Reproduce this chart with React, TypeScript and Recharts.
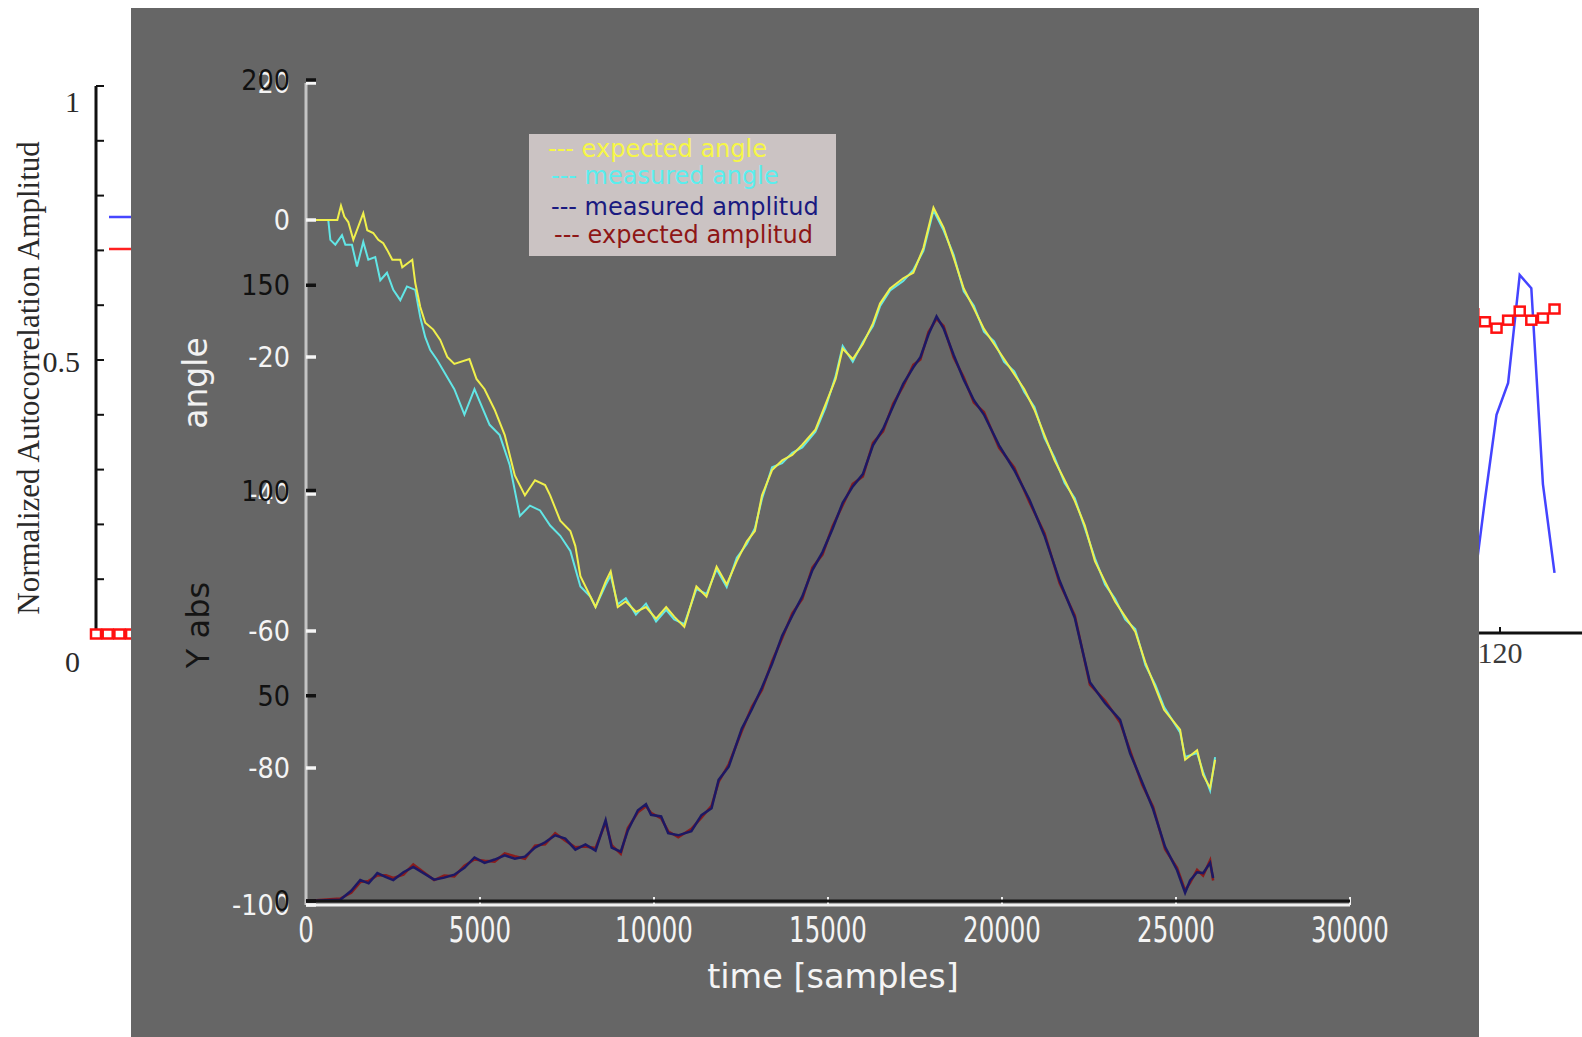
import React from "react";
import { LineChart, Line, XAxis, YAxis, Legend } from "recharts";

const W = 1582;
const H = 1037;
const FONT = "DejaVu Sans";
const SERIF = "Liberation Serif";

// main figure axes
const timeTicks = [0, 5000, 10000, 15000, 20000, 25000, 30000];
const angleTicks = [-100, -80, -60, -40, -20, 0, 20];
const absTicks = [0, 50, 100, 150, 200];

// expected angle (yellow)
const expAngleTime = [
  0, 900, 1005, 1100, 1215, 1360, 1646, 1760, 1933, 2077,
  2220, 2336, 2480, 2709, 2767, 3054, 3140, 3284, 3427, 3657,
  3858, 4060, 4262, 4696, 4899, 5131, 5421, 5711, 6001, 6291,
  6581, 6871, 7016, 7306, 7596, 7740, 7885, 8175, 8320, 8610,
  8755, 8958, 9190, 9480, 9770, 10060, 10350, 10581, 10871, 11219,
  11509, 11799, 12089, 12379, 12668, 12900, 13103, 13393, 13683, 13973,
  14262, 14639, 14929, 15219, 15422, 15712, 16002, 16292, 16495, 16785,
  17162, 17452, 17741, 18031, 18321, 18611, 18901, 19191, 19481, 19771,
  20061, 20351, 20641, 20931, 21221, 21511, 21801, 22091, 22381, 22671,
  22961, 23250, 23540, 23830, 24120, 24410, 24658, 25118, 25262, 25607,
  25779, 25980, 26124,
];
const expAngle = [
  0, 0, 2.1, 0.5, -0.3, -2.9, 1.0, -1.5, -1.9, -2.9,
  -3.4, -4.4, -5.8, -5.8, -6.9, -5.8, -9.2, -12.7, -15.0, -16.0,
  -17.5, -20.0, -21.0, -20.3, -23.2, -24.7, -27.7, -31.4, -37.3, -40.2,
  -38.0, -38.7, -40.2, -43.9, -45.4, -47.6, -52.0, -55.0, -56.5, -52.8,
  -51.3, -56.5, -55.7, -57.2, -56.5, -58.2, -56.5, -57.9, -59.4, -53.5,
  -55.0, -50.6, -53.2, -49.8, -46.9, -45.4, -40.2, -36.5, -35.1, -34.3,
  -32.8, -30.6, -26.9, -23.2, -18.8, -20.3, -18.1, -15.1, -12.2, -10.0,
  -8.5, -7.7, -4.1, 1.8, -1.1, -5.5, -10.0, -12.9, -15.9, -18.1,
  -20.3, -22.5, -24.7, -27.7, -31.4, -35.1, -38.0, -41.0, -44.6, -49.8,
  -52.8, -55.7, -57.9, -60.1, -64.6, -68.3, -71.5, -74.4, -78.8, -77.4,
  -81.0, -82.9, -78.8,
];

// measured angle (cyan)
const measAngleTime = [
  0, 640, 700, 842, 1034, 1130, 1320, 1465, 1646, 1790,
  1990, 2135, 2327, 2508, 2709, 2900, 3140, 3284, 3427, 3571,
  3764, 4262, 4552, 4841, 5276, 5566, 5856, 6146, 6436, 6726,
  7016, 7306, 7596, 7885, 8175, 8320,
  8610, 8755, 8958, 9190, 9480, 9770, 10060, 10350, 10581, 10871,
  11219, 11509, 11799, 12089, 12379, 12668, 12900, 13103, 13393, 13683,
  13973, 14262, 14639, 14929, 15219, 15422, 15712, 16002, 16292, 16495,
  16785, 17162, 17452, 17741, 18031, 18321, 18611, 18901, 19191, 19481,
  19771, 20061, 20351, 20641, 20931, 21221, 21511, 21801, 22091, 22381,
  22671, 22961, 23250, 23540, 23830, 24120, 24410, 24658, 25118, 25262,
  25607, 25779, 25980, 26124,
];
const measAngle = [
  0, 0, -2.9, -3.6, -2.2, -3.6, -3.6, -6.8, -3.2, -5.8,
  -5.4, -8.8, -7.7, -10.2, -11.7, -9.7, -10.2, -14.2, -17.1, -19.0,
  -20.4, -24.7, -28.4, -24.7, -29.9, -31.4, -35.8, -43.2, -41.7, -42.4,
  -44.6, -46.1, -48.3, -53.5, -55.0, -56.5,
  -53.3, -51.9, -56.1, -55.2, -57.6, -56.0, -58.6, -56.9, -58.3, -59.0,
  -53.9, -54.6, -51.0, -53.6, -49.3, -47.3, -45.0, -40.7, -36.1, -35.5,
  -34.0, -33.2, -30.9, -27.4, -22.8, -18.4, -20.7, -17.8, -15.5, -12.6,
  -10.3, -8.9, -7.3, -4.5, 1.4, -1.5, -5.1, -10.4, -12.5, -16.3,
  -17.7, -20.7, -22.1, -25.1, -27.3, -31.8, -34.7, -38.4, -40.6, -45.0,
  -49.4, -53.2, -55.3, -58.3, -59.7, -65.0, -67.9, -71.1, -74.8, -78.4,
  -77.8, -80.6, -83.3, -78.4,
];

// amplitude traces (Y abs axis)
const ampTime = [
  0, 985, 1300, 1560, 1800, 2050, 2300, 2508, 2800, 3083,
  3682, 3972, 4262, 4552, 4841, 5131, 5421, 5711, 6001, 6291,
  6581, 6871, 7161, 7451, 7740, 8030, 8320, 8610, 8784, 9045,
  9248, 9538, 9770, 9915, 10205, 10408, 10697, 11074, 11364, 11654,
  11857, 12147, 12524, 12813, 13103, 13393, 13683, 13973, 14262, 14552,
  14842, 15132, 15422, 15712, 16002, 16292, 16582, 16872, 17162, 17452,
  17655, 17887, 18119, 18321, 18611, 18901, 19191, 19481, 19916, 20351,
  20786, 21221, 21656, 22091, 22526, 22964, 23394, 23681, 24025, 24341,
  24686, 25031, 25262, 25405, 25606, 25779, 25980, 26067,
];
const measAmp = [
  0, 0.3, 2.5, 5.1, 4.3, 6.8, 5.8, 5.1, 7.0, 8.3,
  5.2, 5.7, 6.4, 8.1, 10.6, 9.3, 10.1, 11.1, 10.3, 10.8,
  13.0, 14.3, 16.0, 15.2, 12.5, 13.8, 12.3, 19.7, 13.0, 12.0,
  17.2, 22.1, 23.6, 21.0, 20.6, 16.5, 16.0, 17.0, 20.9, 22.6,
  29.5, 32.7, 42.0, 46.7, 52.0, 57.8, 64.6, 69.5, 74.2, 80.6,
  85.0, 90.7, 97.0, 101.0, 104.0, 111.0, 115.0, 120.5, 126.0, 130.0,
  132.5, 138.0, 142.4, 139.5, 133.0, 127.0, 122.0, 118.5, 111.0, 105.0,
  97.8, 89.0, 78.0, 69.0, 53.3, 48.2, 44.1, 36.0, 29.0, 22.4,
  13.2, 7.5, 2.0, 5.0, 7.0, 6.8, 9.3, 5.6,
];
const expAmp = [
  0, 0.6, 2.0, 4.6, 4.9, 6.2, 6.3, 5.6, 6.4, 8.9,
  5.1, 6.2, 6.0, 8.6, 10.1, 9.8, 9.6, 11.6, 10.9, 10.3,
  13.5, 13.8, 16.5, 14.7, 13.1, 13.3, 12.9, 19.1, 13.6, 11.5,
  17.8, 21.6, 23.1, 21.5, 20.1, 17.0, 15.5, 17.6, 20.3, 23.2,
  29.0, 33.3, 41.4, 47.3, 51.4, 58.4, 64.0, 70.1, 73.6, 81.2,
  84.4, 91.3, 96.4, 101.6, 103.4, 111.6, 114.4, 121.1, 125.4, 130.6,
  131.9, 138.6, 141.8, 140.1, 132.4, 127.6, 121.4, 119.1, 110.4, 105.6,
  97.2, 89.6, 77.4, 69.6, 52.7, 48.8, 43.5, 36.6, 28.4, 23.0,
  12.6, 8.1, 2.6, 4.4, 7.6, 6.2, 9.9, 5.0,
];

const seriesNames = ["expected angle", "measured angle", "measured amplitud", "expected amplitud"];
const seriesColors = ["#f0f04c", "#62e6e6", "#1c1864", "#8a1c1c"];
const legendTextColors = ["#f6f648", "#5aeeee", "#1a1a80", "#8e1616"];

// background autocorrelation figure
const bgYTicks = [0, 0.1, 0.2, 0.3, 0.4, 0.5, 0.6, 0.7, 0.8, 0.9, 1];
const bgLeftLag = [0, 1, 2, 3, 4];
const bgLeftBlue = [0, 0, 0, 0, 0];
const bgLeftRed = [0, 0, 0, 0, 0];
const bgRightLag = [117.7, 118.7, 119.7, 120.7, 121.7, 122.7, 123.7, 124.7];
const bgRightBlue = [0.08, 0.25, 0.41, 0.47, 0.673, 0.648, 0.28, 0.113];
const bgRightRed = [0.6, 0.585, 0.573, 0.588, 0.605, 0.588, 0.592, 0.609];

const zip = (xs: number[], ys: number[]) => xs.map((t, i) => ({ t, v: ys[i] }));

const expAngleData = zip(expAngleTime, expAngle);
const measAngleData = zip(measAngleTime, measAngle);
const measAmpData = zip(ampTime, measAmp);
const expAmpData = zip(ampTime, expAmp);
const bgLeftBlueData = zip(bgLeftLag, bgLeftBlue);
const bgLeftRedData = zip(bgLeftLag, bgLeftRed);
const bgRightBlueData = zip(bgRightLag, bgRightBlue);
const bgRightRedData = zip(bgRightLag, bgRightRed);

function NarrowTick(props: any) {
  const { x, y, payload, color, size, sx, anchor } = props;
  return (
    <text
      transform={`translate(${x},${y}) scale(${sx},1)`}
      textAnchor={anchor}
      dominantBaseline="central"
      fill={color}
      fontSize={size}
      fontFamily={FONT}
    >
      {payload.value}
    </text>
  );
}

function SerifTick(props: any) {
  const { x, y, payload } = props;
  const v = payload.value;
  if (v !== 0 && v !== 0.5 && v !== 1) return <g />;
  const dy = v === 1 ? 15 : v === 0 ? 27 : 1;
  return (
    <text x={x} y={y + dy} textAnchor="end" dominantBaseline="central" fill="#2a2a2a" fontSize={30} fontFamily={SERIF}>
      {String(v)}
    </text>
  );
}

const square = (p: any) => (
  <rect key={`sq${p.index}`} x={p.cx - 5} y={p.cy - 4.5} width={10} height={9} fill="#fff" stroke="#ff1010" strokeWidth={2.5} />
);

function LegendBox() {
  const tops = [1, 27.5, 59, 87];
  const lefts = [19, 22, 22, 25];
  return (
    <div style={{ position: "relative", width: 307, height: 122, background: "#cbc3c3" }}>
      {seriesNames.map((n, i) => (
        <div
          key={n}
          style={{
            position: "absolute",
            left: lefts[i],
            top: tops[i],
            height: 28,
            lineHeight: "28px",
            whiteSpace: "nowrap",
            fontFamily: FONT,
            fontSize: 24,
            color: legendTextColors[i],
          }}
        >
          {"--- " + n}
        </div>
      ))}
    </div>
  );
}

function BackgroundLeft() {
  return (
    <div style={{ position: "absolute", left: 0, top: 0 }}>
      <LineChart width={681} height={700} margin={{ top: 86, right: 0, bottom: 26, left: 36 }}>
        <XAxis xAxisId="b" type="number" dataKey="t" domain={[0, 50]} height={40} tick={false} tickLine={false} axisLine={{ stroke: "#111", strokeWidth: 2 }} />
        <XAxis xAxisId="t" orientation="top" type="number" dataKey="t" domain={[0, 50]} height={0} tick={false} tickLine={false} axisLine={{ stroke: "#111", strokeWidth: 2.5 }} />
        <YAxis
          type="number"
          domain={[0, 1]}
          ticks={bgYTicks}
          interval={0}
          width={60}
          axisLine={{ stroke: "#111", strokeWidth: 3 }}
          tickLine={{ stroke: "#111", strokeWidth: 2 }}
          tickSize={-8}
          tickMargin={24}
          tick={(p: any) => <SerifTick {...p} />}
          label={{
            content: () => (
              <text transform="translate(28,378) rotate(-90)" textAnchor="middle" dominantBaseline="central" fill="#2a2a2a" fontSize={31} fontFamily={SERIF}>
                Normalized Autocorrelation Amplitud
              </text>
            ),
          }}
        />
        <Line xAxisId="b" data={bgLeftRedData} dataKey="v" stroke="#ff1010" strokeWidth={2} dot={square} isAnimationActive={false} />
        <Line xAxisId="b" data={bgLeftBlueData} dataKey="v" stroke="#3a3aff" strokeWidth={2} dot={false} isAnimationActive={false} />
        <Legend
          layout="horizontal"
          verticalAlign="middle"
          align="center"
          wrapperStyle={{ left: 109, top: 205, width: 60, height: 60 }}
          content={() => (
            <svg width={60} height={60}>
              <line x1={0} x2={60} y1={12} y2={12} stroke="#4646ff" strokeWidth={2.5} />
              <line x1={0} x2={60} y1={44} y2={44} stroke="#ff2020" strokeWidth={2.5} />
            </svg>
          )}
        />
      </LineChart>
    </div>
  );
}

function BackgroundRight() {
  return (
    <div style={{ position: "absolute", left: 1384, top: 101 }}>
      <LineChart width={232} height={572} margin={{ top: 0, right: 0, bottom: 0, left: 0 }}>
        <XAxis
          xAxisId="b"
          type="number"
          dataKey="t"
          domain={[110, 130]}
          ticks={[120]}
          interval={0}
          height={40}
          axisLine={{ stroke: "#111", strokeWidth: 3 }}
          tickLine={{ stroke: "#111", strokeWidth: 2 }}
          tickSize={-6}
          tickMargin={15}
          tick={{ fill: "#3a3a3a", fontSize: 30, fontFamily: SERIF }}
        />
        <XAxis xAxisId="t" orientation="top" type="number" dataKey="t" domain={[110, 130]} ticks={[120]} height={0} tick={false} tickSize={-6} tickLine={{ stroke: "#111", strokeWidth: 2 }} axisLine={{ stroke: "#111", strokeWidth: 3 }} />
        <YAxis hide width={0} type="number" domain={[0, 1]} />
        <Line xAxisId="b" data={bgRightRedData} dataKey="v" stroke="#ff1010" strokeWidth={2} dot={square} isAnimationActive={false} />
        <Line xAxisId="b" data={bgRightBlueData} dataKey="v" stroke="#4444ff" strokeWidth={2.5} dot={false} isAnimationActive={false} />
      </LineChart>
    </div>
  );
}

function AngleChart() {
  return (
    <div style={{ position: "absolute", left: 0, top: 0 }}>
      <LineChart width={W} height={H} margin={{ top: 83, right: 232, bottom: 72, left: 226 }}>
        <XAxis
          xAxisId="b"
          type="number"
          dataKey="t"
          domain={[0, 30000]}
          ticks={timeTicks}
          interval={0}
          height={60}
          axisLine={{ stroke: "#f2f2f2", strokeWidth: 3 }}
          tickLine={{ stroke: "#f2f2f2", strokeWidth: 2 }}
          tickSize={-8}
          tickMargin={33}
          tick={(p: any) => <NarrowTick {...p} color="#f4f4f4" size={35} sx={0.7} anchor="middle" />}
          label={{
            content: () => (
              <text x={833} y={976} textAnchor="middle" dominantBaseline="central" fill="#f4f4f4" fontSize={33.5} fontFamily={FONT}>
                time [samples]
              </text>
            ),
          }}
        />
        <XAxis
          xAxisId="top"
          orientation="top"
          type="number"
          dataKey="t"
          domain={[0, 30000]}
          ticks={timeTicks}
          interval={0}
          height={0}
          tick={false}
          tickSize={-8}
          tickLine={{ stroke: "#f2f2f2", strokeWidth: 2 }}
          axisLine={{ stroke: "#f0f0f0", strokeWidth: 3 }}
        />
        <YAxis
          yAxisId="a"
          type="number"
          domain={[-100, 20]}
          ticks={angleTicks}
          interval={0}
          width={80}
          axisLine={{ stroke: "#c4c4c4", strokeWidth: 3 }}
          tickLine={{ stroke: "#f6f6f6", strokeWidth: 3.5 }}
          tickSize={-10}
          tickMargin={26}
          tick={(p: any) => <NarrowTick {...p} color="#f4f4f4" size={29} sx={0.88} anchor="end" />}
          label={{
            content: () => (
              <text transform="translate(195,383) rotate(-90)" textAnchor="middle" dominantBaseline="central" fill="#f2f2f2" fontSize={33} fontFamily={FONT}>
                angle
              </text>
            ),
          }}
        />
        <YAxis
          yAxisId="ar"
          orientation="right"
          type="number"
          domain={[-100, 20]}
          ticks={angleTicks}
          interval={0}
          width={0}
          tick={false}
          tickSize={-10}
          tickLine={{ stroke: "#f6f6f6", strokeWidth: 3.5 }}
          axisLine={{ stroke: "#bdbdbd", strokeWidth: 3 }}
        />
        <Line xAxisId="b" yAxisId="a" data={measAngleData} dataKey="v" name={seriesNames[1]} stroke={seriesColors[1]} strokeWidth={2} dot={false} isAnimationActive={false} />
        <Line xAxisId="b" yAxisId="a" data={expAngleData} dataKey="v" name={seriesNames[0]} stroke={seriesColors[0]} strokeWidth={2} dot={false} isAnimationActive={false} />
        <Legend layout="horizontal" verticalAlign="middle" align="center" wrapperStyle={{ left: 529, top: 134, width: 307, height: 122 }} content={() => <LegendBox />} />
      </LineChart>
    </div>
  );
}

function AmplitudeChart() {
  return (
    <div style={{ position: "absolute", left: 0, top: 0 }}>
      <LineChart width={W} height={H} margin={{ top: 80, right: 232, bottom: 76, left: 226 }}>
        <XAxis xAxisId="b" type="number" dataKey="t" domain={[0, 30000]} height={60} tick={false} tickLine={false} axisLine={{ stroke: "#141414", strokeWidth: 3 }} />
        <XAxis xAxisId="top" orientation="top" type="number" dataKey="t" domain={[0, 30000]} height={0} tick={false} tickLine={false} axisLine={{ stroke: "#141414", strokeWidth: 3 }} />
        <YAxis
          yAxisId="s"
          type="number"
          domain={[0, 200]}
          ticks={absTicks}
          interval={0}
          width={80}
          axisLine={false}
          tickLine={{ stroke: "#111", strokeWidth: 3.5 }}
          tickSize={-10}
          tickMargin={26}
          tick={(p: any) => <NarrowTick {...p} color="#111" size={29} sx={0.88} anchor="end" />}
          label={{
            content: () => (
              <text transform="translate(198,625) rotate(-90)" textAnchor="middle" dominantBaseline="central" fill="#141414" fontSize={32} fontFamily={FONT}>
                Y abs
              </text>
            ),
          }}
        />
        <YAxis
          yAxisId="sr"
          orientation="right"
          type="number"
          domain={[0, 200]}
          ticks={absTicks}
          interval={0}
          width={0}
          tick={false}
          tickSize={-10}
          tickLine={{ stroke: "#111", strokeWidth: 3.5 }}
          axisLine={false}
        />
        <Line xAxisId="b" yAxisId="s" data={expAmpData} dataKey="v" name={seriesNames[3]} stroke={seriesColors[3]} strokeWidth={2.5} dot={false} isAnimationActive={false} />
        <Line xAxisId="b" yAxisId="s" data={measAmpData} dataKey="v" name={seriesNames[2]} stroke={seriesColors[2]} strokeWidth={2.5} dot={false} isAnimationActive={false} />
      </LineChart>
    </div>
  );
}

export default function App() {
  return (
    <div style={{ position: "fixed", left: 0, top: 0, width: W, height: H, overflow: "hidden", background: "#fff" }}>
      <BackgroundLeft />
      <BackgroundRight />
      <div style={{ position: "absolute", left: 131, top: 8, width: 1348, height: 1029, background: "#666666" }} />
      <AngleChart />
      <AmplitudeChart />
    </div>
  );
}
